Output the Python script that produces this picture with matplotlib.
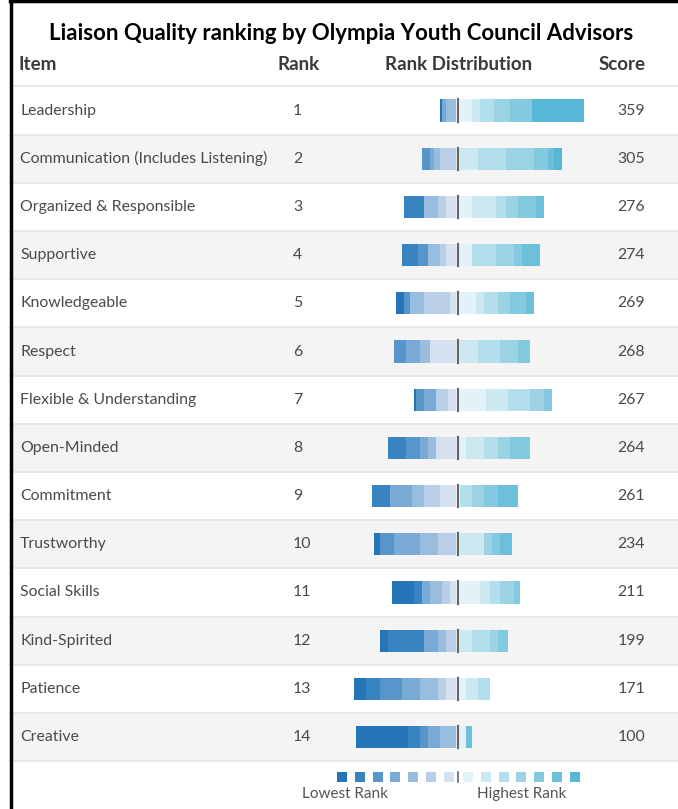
import matplotlib
matplotlib.use("Agg")
import matplotlib.pyplot as plt
from matplotlib.patches import Rectangle

title = "Liaison Quality ranking by Olympia Youth Council Advisors"
items = ["Leadership", "Communication (Includes Listening)", "Organized & Responsible",
         "Supportive", "Knowledgeable", "Respect", "Flexible & Understanding",
         "Open-Minded", "Commitment", "Trustworthy", "Social Skills",
         "Kind-Spirited", "Patience", "Creative"]
ranks = list(range(1, 15))
scores = [359, 305, 276, 274, 269, 268, 267, 264, 261, 234, 211, 199, 171, 100]

# votes at the low end, listed rank 14 -> rank 8 (left to right)
low_votes = [
    [1, 0, 0, 2, 5, 0, 0],
    [0, 0, 4, 2, 3, 8, 0],
    [0, 10, 0, 0, 7, 4, 5],
    [0, 8, 5, 0, 6, 3, 5],
    [4, 0, 3, 0, 7, 13, 3],
    [0, 0, 6, 7, 5, 0, 13],
    [1, 0, 4, 6, 0, 6, 4],
    [0, 9, 7, 4, 4, 0, 10],
    [0, 9, 0, 11, 6, 8, 8],
    [3, 0, 7, 13, 9, 9, 0],
    [11, 4, 0, 4, 6, 4, 3],
    [4, 18, 0, 7, 4, 5, 0],
    [6, 7, 11, 9, 9, 4, 5],
    [26, 6, 4, 6, 8, 0, 0],
]
# votes at the high end, listed rank 7 -> rank 1 (left to right)
high_votes = [
    [6, 4, 7, 8, 11, 0, 26],
    [0, 9, 14, 14, 7, 3, 4],
    [6, 12, 5, 6, 9, 4, 0],
    [6, 0, 12, 9, 4, 9, 0],
    [8, 4, 7, 6, 8, 4, 0],
    [0, 9, 11, 9, 6, 0, 0],
    [13, 11, 11, 7, 4, 0, 0],
    [3, 9, 7, 6, 10, 0, 0],
    [0, 0, 6, 6, 7, 10, 0],
    [0, 12, 0, 4, 4, 6, 0],
    [10, 5, 5, 7, 3, 0, 0],
    [0, 6, 9, 4, 5, 0, 0],
    [3, 6, 6, 0, 0, 0, 0],
    [3, 0, 0, 0, 0, 3, 0],
]

low_colors = ['#2574b7', '#3884c1', '#5796cb', '#78aad5', '#98bddf', '#b8cfe7', '#d5e1f0']
high_colors = ['#e2f2f8', '#cce8f1', '#b3deeb', '#9bd3e5', '#83c9e0', '#6cc0db', '#58b7d7']

W, H = 678, 809
fig = plt.figure(figsize=(W / 100, H / 100), dpi=100)
ax = fig.add_axes([0, 0, 1, 1])
ax.set_xlim(0, W)
ax.set_ylim(H, 0)
ax.axis('off')

row_top = 86.4
row_h = 48.2
n = len(items)

# row stripes and separators
for i in range(n):
    y0 = row_top + i * row_h
    if i % 2 == 1:
        ax.add_patch(Rectangle((10, y0), W - 10, row_h, fc='#f4f4f4', ec='none'))
    ax.plot([10, W], [y0, y0], color='#e4e4e4', lw=1.2)
ax.plot([10, W], [row_top + n * row_h, row_top + n * row_h], color='#e4e4e4', lw=1.2)

# frame
ax.plot([10.5, 10.5], [0, H], color='black', lw=2.5)
ax.plot([10, W], [1.2, 1.2], color='black', lw=2.5)

ax.text(341, 39.5, title, ha='center', va='baseline', fontsize=16,
        fontweight='bold', family='Lato', color='black')

hdr = dict(fontsize=13.5, fontweight='bold', family='Lato', color='#3a3a3a', va='baseline')
ax.text(19, 70, "Item", ha='left', **hdr)
ax.text(299, 70, "Rank", ha='center', **hdr)
ax.text(459, 70, "Rank Distribution", ha='center', **hdr)
ax.text(646, 70, "Score", ha='right', **hdr)

cell = dict(fontsize=11.4, family='Lato', color='#4a4a4a', va='center')
for i in range(n):
    yc = row_top + (i + 0.5) * row_h
    ax.text(20, yc, items[i], ha='left', **cell)
    ax.text(293, yc, str(ranks[i]), ha='left', **cell)
    ax.text(645, yc, str(scores[i]), ha='right', **cell)

# distribution bars in vote units, 2 px per vote
px = 2.0
center = 457.7
gap = 1.0
x0, x1 = 330, 610
bx = fig.add_axes([x0 / W, 1 - (row_top + n * row_h) / H, (x1 - x0) / W, n * row_h / H])
bx.set_xlim(-(center - x0) / px, (x1 - center) / px)
bx.set_ylim(n - 0.5, -0.5)
bx.axis('off')
bx.patch.set_alpha(0)

bar_h = 0.46
for i in range(n):
    left = -gap - sum(low_votes[i])
    for v, c in zip(low_votes[i], low_colors):
        if v:
            bx.barh(i, v, left=left, height=bar_h, color=c, lw=0)
        left += v
    left = gap
    for v, c in zip(high_votes[i], high_colors):
        if v:
            bx.barh(i, v, left=left, height=bar_h, color=c, lw=0)
        left += v
    bx.plot([0, 0], [i - bar_h / 2, i + bar_h / 2], color='#666666', lw=1.6)

# legend
sq = 10
ly = 772
for k, c in enumerate(low_colors):
    ax.add_patch(Rectangle((337 + k * 17.8, ly), sq, sq, fc=c, ec='none'))
for k, c in enumerate(high_colors):
    ax.add_patch(Rectangle((463 + k * 17.8, ly), sq, sq, fc=c, ec='none'))
ax.plot([457.7, 457.7], [ly, ly + sq], color='#666666', lw=1.2)
leg = dict(fontsize=11, family='Lato', color='#555555', va='baseline')
ax.text(345, 798, "Lowest Rank", ha='center', **leg)
ax.text(522, 798, "Highest Rank", ha='center', **leg)

fig.savefig("out.png", dpi=100)
